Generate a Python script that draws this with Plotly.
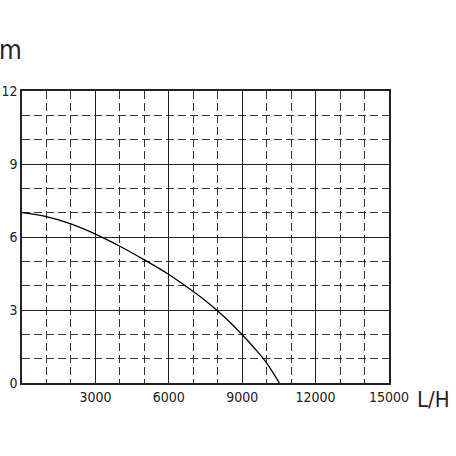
import plotly.graph_objects as go

flow = [0, 1000, 2000, 3000, 4000, 5000, 6000, 7000, 7500, 8000, 8500, 9000, 9500, 10000, 10520]
head = [7.0, 6.84, 6.54, 6.12, 5.62, 5.06, 4.46, 3.76, 3.38, 2.96, 2.50, 1.98, 1.43, 0.82, 0.0]

x_ticks = [3000, 6000, 9000, 12000, 15000]
y_ticks = [0, 3, 6, 9, 12]

font = "Liberation Sans Narrow, DejaVu Sans Condensed, sans-serif"

fig = go.Figure()
fig.add_trace(go.Scatter(x=flow, y=head,
                         mode='lines',
                         line=dict(color='black', width=1.3, shape='spline', smoothing=1.0),
                         showlegend=False,
                         ))

fig.update_layout(
    width=456, height=456,
    margin=dict(l=22, r=67, t=91, b=73),
    plot_bgcolor='white',
    paper_bgcolor='white',
    font=dict(family=font, size=14, color='#222'),
    xaxis=dict(range=[0, 15000],
               tickvals=x_ticks,
               ticktext=[str(v) for v in x_ticks],
               automargin=False,
               showgrid=True, gridcolor='#222', gridwidth=1.3,
               showline=True, linecolor='#222', linewidth=1.5, mirror=True,
               zeroline=False, ticks='', ticklen=0,
               minor=dict(tick0=0, dtick=1000, showgrid=True,
                          gridcolor='#333', gridwidth=1, griddash='8px,4px'),
               ),
    yaxis=dict(range=[0, 12],
               tickvals=y_ticks,
               ticktext=[str(v) for v in y_ticks],
               automargin=False,
               showgrid=True, gridcolor='#222', gridwidth=1.3,
               showline=True, linecolor='#222', linewidth=1.5, mirror=True,
               zeroline=False, ticks='', ticklen=0,
               minor=dict(tick0=0, dtick=1, showgrid=True,
                          gridcolor='#333', gridwidth=1, griddash='8px,4px'),
               ),
)

fig.add_annotation(text="m", xref='paper', yref='paper', x=-0.068, y=1.20,
                   showarrow=False, font=dict(size=26, family=font, color='#222'))
fig.add_annotation(text="L/H", xref='paper', yref='paper', x=1.171, y=-0.106,
                   showarrow=False, font=dict(size=22, family=font, color='#222'))

# page body has a default margin, drop it so the figure sits at the corner
fig.write_html("out.html",
               config={'displayModeBar': False},
               post_script="document.body.style.margin='0px';")
